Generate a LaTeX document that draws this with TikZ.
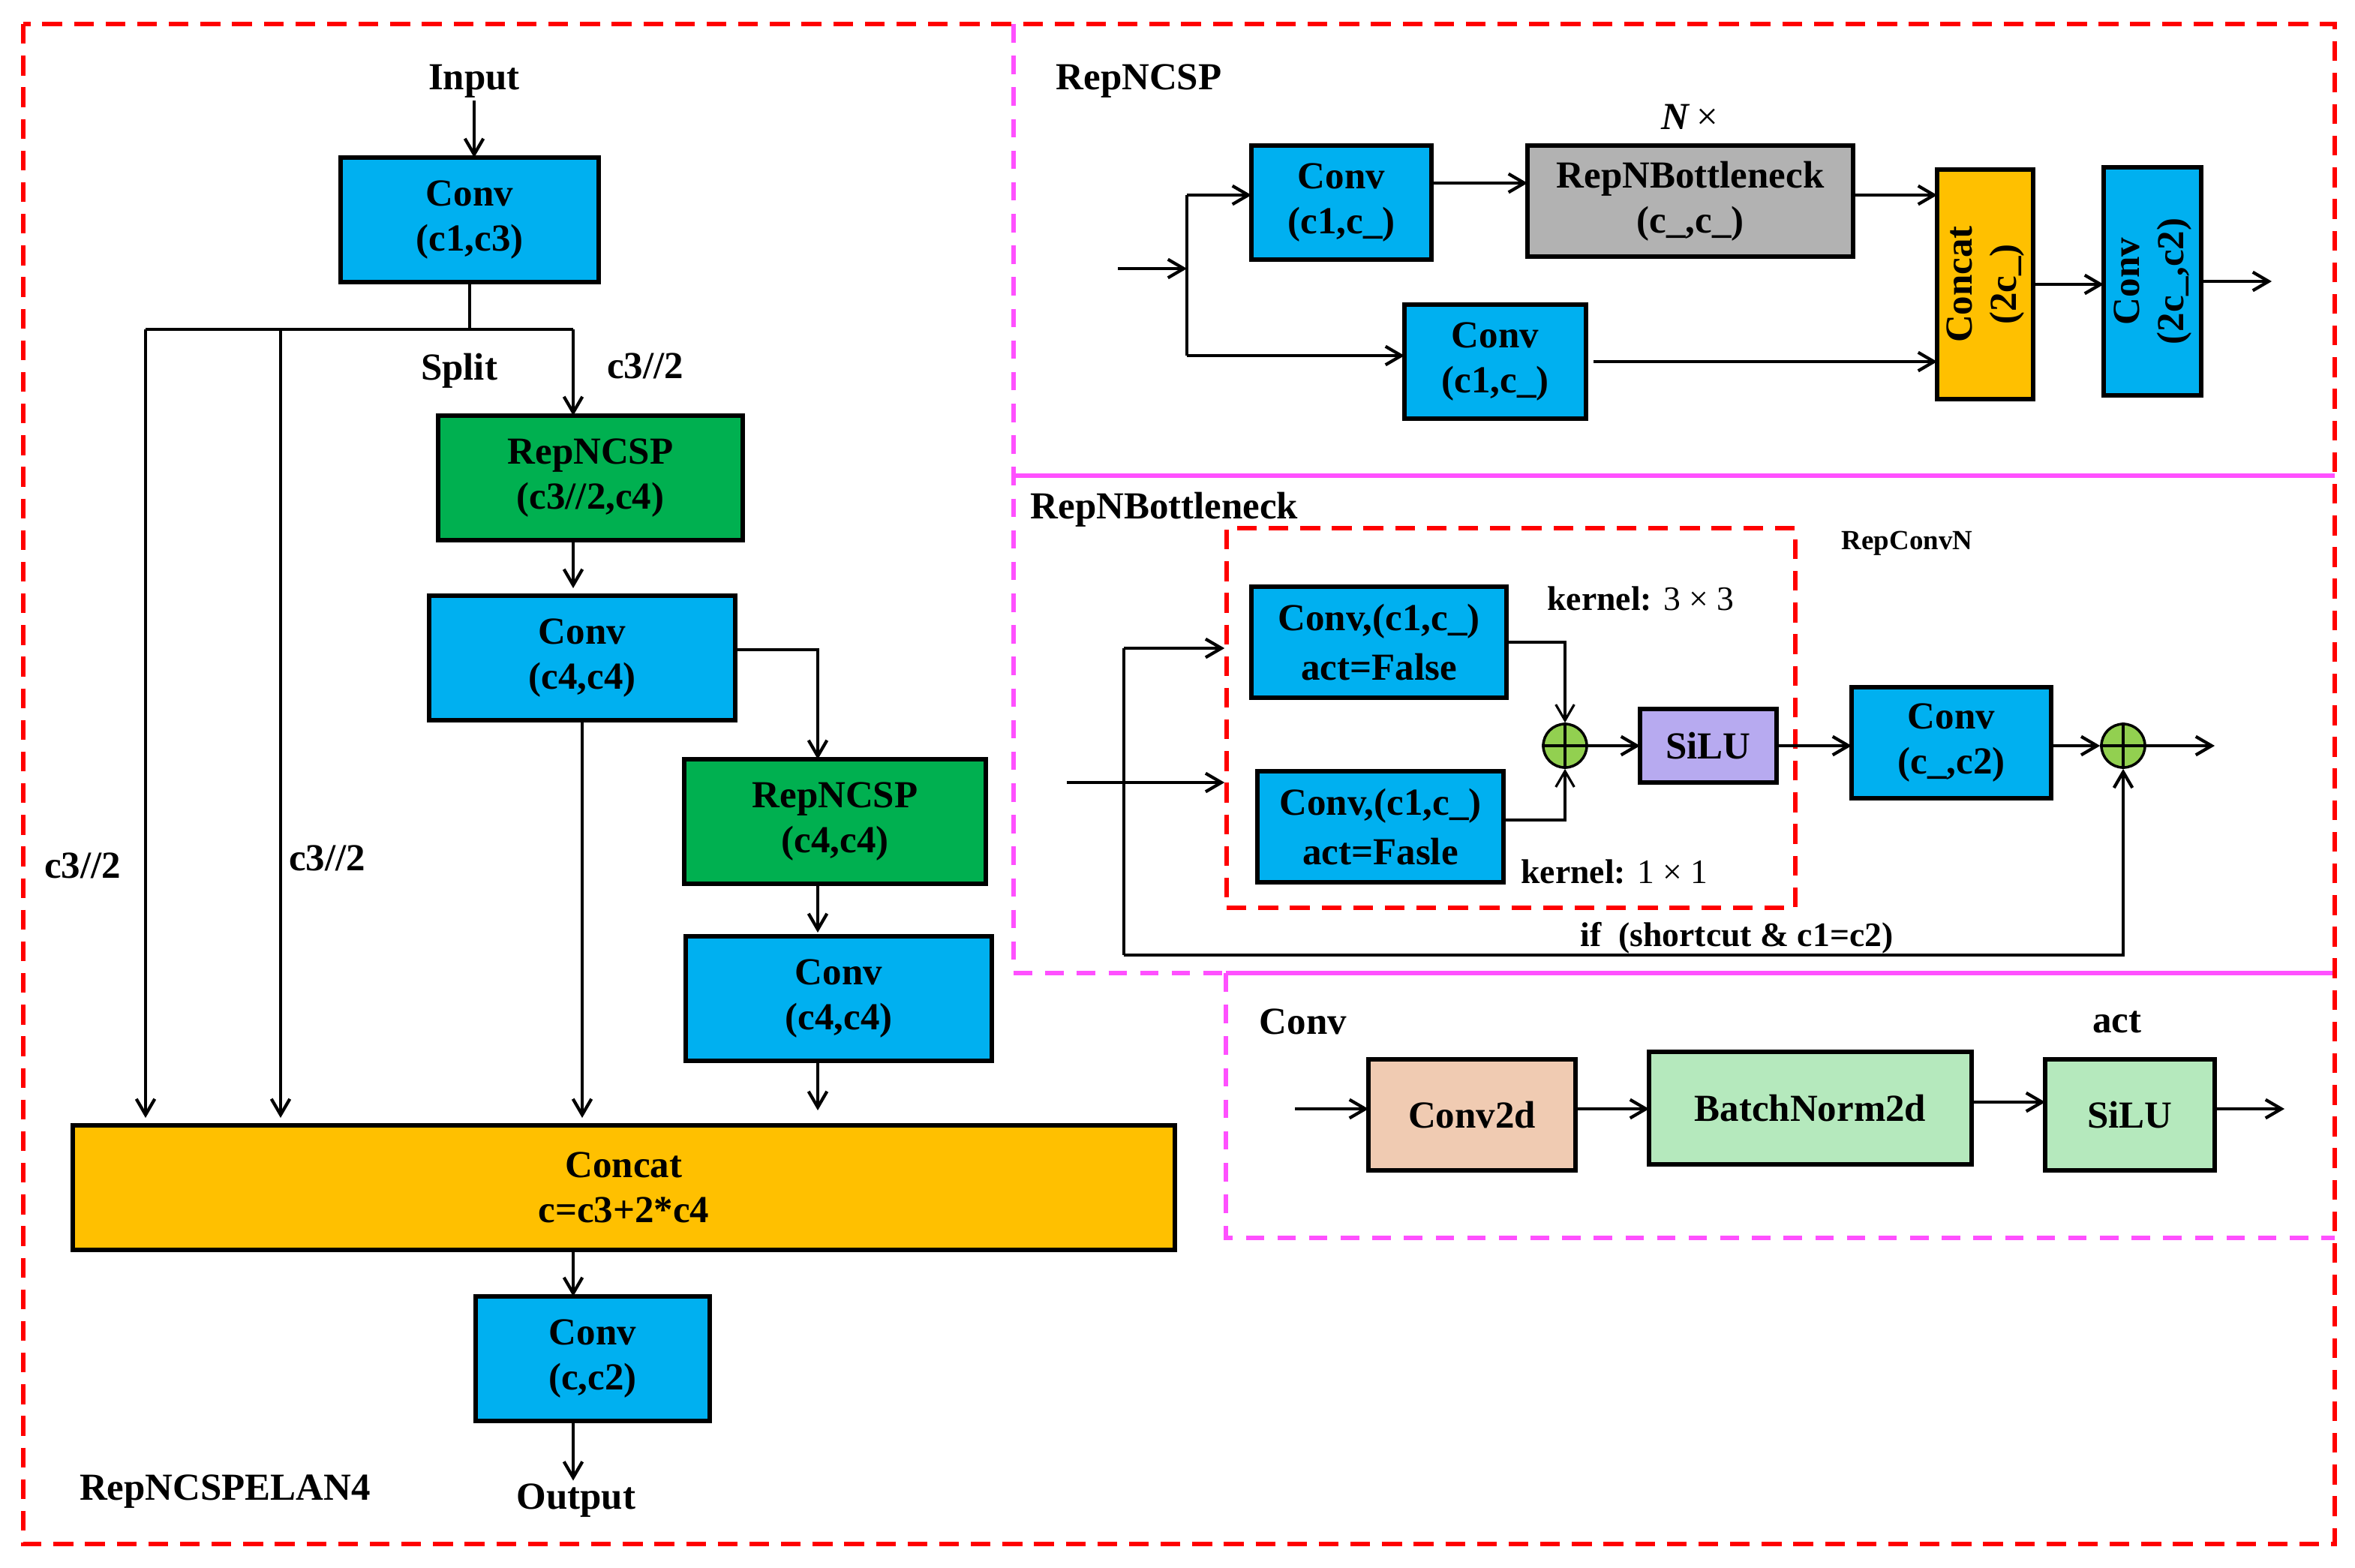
\documentclass[tikz,border=0pt]{standalone}
\usepackage{fontspec}
\setmainfont{Liberation Serif}
\usepackage{graphicx}
\usetikzlibrary{arrows.meta}

\definecolor{convblue}{RGB}{0,176,240}
\definecolor{cspgreen}{RGB}{0,176,80}
\definecolor{catorange}{RGB}{255,192,0}
\definecolor{neckgray}{RGB}{178,178,178}
\definecolor{silupurple}{RGB}{183,170,240}
\definecolor{addgreen}{RGB}{146,208,80}
\definecolor{peach}{RGB}{240,203,178}
\definecolor{mint}{RGB}{181,233,189}
\definecolor{framemag}{RGB}{255,80,255}

\tikzset{
  blk/.style 2 args = {draw, line width=1.5pt, inner sep=0pt, outer sep=0pt,
    minimum width=#1*0.02cm, minimum height=#2*0.02cm},
  conv/.style 2 args = {blk={#1}{#2}, fill=convblue},
  csp/.style 2 args = {blk={#1}{#2}, fill=cspgreen},
  cat/.style 2 args = {blk={#1}{#2}, fill=catorange},
  neck/.style 2 args = {blk={#1}{#2}, fill=neckgray},
  silu/.style 2 args = {blk={#1}{#2}, fill=silupurple},
  addn/.style = {circle, draw, line width=1pt, fill=addgreen,
    minimum size=29*0.02cm, inner sep=0pt},
  lbl/.style = {font=\fontsize{13}{15}\selectfont\bfseries},
  wire/.style = {line width=1.2pt},
  arr/.style = {line width=1.2pt, -{Straight Barb[length=6pt,width=7pt]}},
  reddash/.style = {draw=red, line width=1.6pt, dash pattern=on 7.5pt off 4.5pt},
  magdash/.style = {draw=framemag, line width=1.8pt, dash pattern=on 7pt off 5pt},
  magline/.style = {draw=framemag, line width=1.8pt}
}

\begin{document}
\begin{tikzpicture}[x=0.02cm, y=-0.02cm,
  every node/.style = {font=\fontsize{14.5}{17}\selectfont\bfseries,
    align=center, inner sep=1pt}]

  \useasboundingbox (0,0) rectangle (1569.5,1044.5);
  \fill[white] (0,0) rectangle (1569.5,1044.5);

  % RepNCSPELAN4
  \node (inp) at (316,54) {Input};
  \node[conv={172}{83}] (c13) at (313,146.5) {Conv\\(c1,c3)};
  \coordinate (sp) at (313,219.5);
  \coordinate (sl) at (97,219.5);
  \coordinate (sm) at (187,219.5);
  \coordinate (sr) at (382,219.5);
  \node (splt) at (306,247) {Split};
  \node (chr) at (430,244) {c3//2};
  \node (chl) at (55,577) {c3//2};
  \node (chm) at (218,572) {c3//2};
  \node[csp={203}{83}] (ncsp1) at (393.5,318.5) {RepNCSP\\(c3//2,c4)};
  \node[conv={204}{83}] (c44a) at (388,438.5) {Conv\\(c4,c4)};
  \coordinate (br) at (545,433);
  \node[csp={201}{83}] (ncsp2) at (556.5,547.5) {RepNCSP\\(c4,c4)};
  \node[conv={204}{83}] (c44b) at (559,665.5) {Conv\\(c4,c4)};
  \node[cat={734.5}{83}] (concat) at (415.75,791.5) {Concat\\c=c3+2*c4};
  \node[conv={156}{83}] (cout) at (395,905.5) {Conv\\(c,c2)};
  \node (outp) at (384,1000) {Output};
  \node (elan) at (150,994) {RepNCSPELAN4};

  \draw[arr] (inp.south) -- (inp.south |- c13.north);
  \draw[wire] (c13.south) -- (sp);
  \draw[wire] (sl) -- (sr);
  \draw[arr, shorten >=0.1cm] (sl) -- (sl |- concat.north);
  \draw[arr, shorten >=0.1cm] (sm) -- (sm |- concat.north);
  \draw[arr] (sr) -- (sr |- ncsp1.north);
  \draw[arr, shorten >=0.1cm] (sr |- ncsp1.south) -- (sr |- c44a.north);
  \draw[arr, shorten >=0.1cm] (c44a.south) -- (c44a.south |- concat.north);
  \draw[arr] (c44a.east |- br) -- (br) -- (br |- ncsp2.north);
  \draw[arr, shorten >=0.05cm] (br |- ncsp2.south) -- (br |- c44b.north);
  \draw[arr, shorten >=0.2cm] (br |- c44b.south) -- (br |- concat.north);
  \draw[arr] (sr |- concat.south) -- (sr |- cout.north);
  \draw[arr] (sr |- cout.south) -- (sr |- outp.north);

  % RepNCSP
  \node (tcsp) at (759,54) {RepNCSP};
  \node (nx) at (1126,78) {\textit{N}\,\textnormal{×}};
  \node[conv={120}{76}] (ca) at (894,135) {Conv\\(c1,c\_)};
  \node[neck={217}{74}] (rb) at (1126.5,134) {RepNBottleneck\\(c\_,c\_)};
  \node[conv={121}{76}] (cb) at (996.5,241) {Conv\\(c1,c\_)};
  \node[cat={64}{153}] (cc) at (1323,189.5)
    {\rotatebox{90}{\begin{tabular}{@{}c@{}}Concat\\(2c\_)\end{tabular}}};
  \node[conv={65}{152}] (cd) at (1434.5,187.5)
    {\rotatebox{90}{\begin{tabular}{@{}c@{}}Conv\\(2c\_,c2)\end{tabular}}};
  \coordinate (nin) at (745,179);
  \coordinate (jc) at (791,179);
  \coordinate (jt) at (791,130);
  \coordinate (jb) at (791,237);
  \coordinate (nout) at (1514,187.5);

  \draw[arr] (nin) -- (jc);
  \draw[wire] (jt) -- (jb);
  \draw[arr] (jt) -- (jt -| ca.west);
  \draw[arr] (jb) -- (jb -| cb.west);
  \draw[arr] ([yshift=0.26cm]ca.east) -- ([yshift=0.26cm]ca.east -| rb.west);
  \draw[arr] ([yshift=0.08cm]rb.east) -- ([yshift=0.08cm]rb.east -| cc.west);
  \draw[arr, shorten <=0.1cm] (cb.east) -- (cb.east -| cc.west);
  \draw[arr] (cc.east) -- (cc.east -| cd.west);
  \draw[arr] (cd.east) -- (nout);

  % RepNBottleneck
  \node (tneck) at (776,339.5) {RepNBottleneck};
  \node[reddash, inner sep=0pt, minimum width=379*0.02cm,
    minimum height=253*0.02cm] (rcn) at (1007,478.5) {};
  \node[font=\fontsize{10.5}{12}\selectfont\bfseries] (trcn) at (1271,362) {RepConvN};
  \node[conv={170}{74}, font=\fontsize{14.5}{19}\selectfont\bfseries] (k3)
    at (919,428) {Conv,(c1,c\_)\\act=False};
  \node[conv={164}{74}, font=\fontsize{14.5}{19}\selectfont\bfseries] (k1)
    at (920,551) {Conv,(c1,c\_)\\act=Fasle};
  \node[lbl] (tk3) at (1093.5,399) {kernel: \textnormal{3 × 3}};
  \node[lbl] (tk1) at (1076,581) {kernel: \textnormal{1 × 1}};
  \node[addn] (add1) at (1043,497) {};
  \node[silu={91}{49}] (sl1) at (1138.5,497) {SiLU};
  \node[conv={133}{74}] (cc2) at (1300.5,495) {Conv\\(c\_,c2)};
  \node[addn] (add2) at (1415,497) {};
  \node[lbl] (tsc) at (1157.5,625) {if~~(shortcut \& c1=c2)};
  \coordinate (bin) at (711,521.5);
  \coordinate (bt) at (749,432);
  \coordinate (bs) at (749,636.5);
  \coordinate (bout) at (1476,497);

  \draw[arr] (bin) -- (bin -| rcn.west);
  \draw[wire] (bt) -- (bs);
  \draw[arr] (bt) -- (bt -| rcn.west);
  \draw[arr, line width=0.9pt] (k3.east) -| (add1.north);
  \draw[arr, line width=0.9pt] ([yshift=0.09cm]k1.east) -| (add1.south);
  \draw[line width=1pt] (add1.north) -- (add1.south) (add1.west) -- (add1.east);
  \draw[line width=1pt] (add2.north) -- (add2.south) (add2.west) -- (add2.east);
  \draw[arr] (add1) -- (sl1);
  \draw[arr] (sl1.east) -- (sl1.east -| cc2.west);
  \draw[arr] (cc2.east |- add2) -- (add2.west);
  \draw[arr] (add2) -- (bout);
  \draw[arr] (bs) -| (add2.south);

  % Conv
  \node (tconv) at (868.5,681) {Conv};
  \node (tact) at (1411,681) {act};
  \node[blk={138}{74}, fill=peach] (c2d) at (981,743) {Conv2d};
  \node[blk={215}{75}, fill=mint] (bn) at (1206.5,738.5) {BatchNorm2d};
  \node[blk={113}{74}, fill=mint] (sact) at (1419.5,743) {SiLU};
  \coordinate (cin) at (863,739);
  \coordinate (cfin) at (1522.5,739);

  \draw[arr] (cin) -- (cin -| c2d.west);
  \draw[arr] (cin -| c2d.east) -- (cin -| bn.west);
  \draw[arr] ([yshift=0.08cm]bn.east) -- ([yshift=0.08cm]bn.east -| sact.west);
  \draw[arr] (cin -| sact.east) -- (cfin);

  % frames
  \draw[magdash] (675.5,16) -- (675.5,648.5) -- (817,648.5);
  \draw[magline] (675.5,317) -- (1556,317);
  \draw[magline] (817,648.5) -- (1556,648.5);
  \draw[magdash] (817,648.5) -- (817,825) -- (1556,825);
  \draw[reddash] (15.5,16) rectangle (1556,1029);
\end{tikzpicture}
\end{document}
